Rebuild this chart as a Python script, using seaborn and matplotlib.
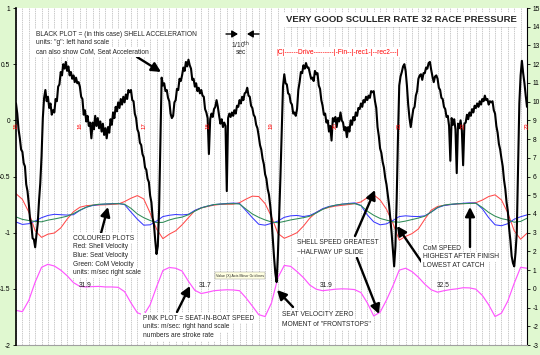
import numpy as np
import pandas as pd
import matplotlib.pyplot as plt
import seaborn as sns


# time grids (seconds)
acc_time = np.linspace(15.0, 23.0, 401)   # 0.02 s samples
vel_time = np.linspace(15.0, 23.0, 81)    # 0.1 s samples

# shell acceleration, g (left scale)
shell_acc = [
    0.15, 0.06, -0.08, -0.16, -0.26, -0.28, -0.38, -0.41, -0.57, -0.63,
    -0.74, -0.88, -0.93, -1.05, -1.06, -1.13, -1.02, -0.92, -0.72, -0.56,
    -0.32, 0.02, 0.20, 0.27, 0.17, 0.21, 0.11, 0.15, 0.05, 0.09,
    0.07, 0.19, 0.17, 0.30, 0.32, 0.43, 0.40, 0.50, 0.46, 0.52,
    0.44, 0.48, 0.40, 0.43, 0.37, 0.40, 0.34, 0.38, 0.33, 0.34,
    0.30, 0.21, 0.19, 0.05, 0.09, -0.01, 0.04, -0.05, -0.02, -0.16,
    -0.02, -0.08, 0.04, -0.05, 0.02, -0.07, -0.01, -0.10, -0.03, -0.13,
    -0.07, -0.16, -0.06, -0.11, 0.01, -0.04, 0.07, 0.02, 0.12, 0.08,
    0.16, 0.11, 0.19, 0.14, 0.21, 0.16, 0.23, 0.19, 0.27, 0.25,
    0.27, 0.18, 0.17, 0.06, 0.02, -0.08, -0.11, -0.20, -0.22, -0.30,
    -0.33, -0.42, -0.44, -0.52, -0.55, -0.67, -0.73, -0.87, -0.93, -1.07,
    -1.19, -1.12, -0.80, -0.20, 0.38, 0.31, 0.33, 0.26, 0.27, 0.20,
    0.17, 0.06, 0.02, 0.04, 0.16, 0.18, 0.28, 0.27, 0.37, 0.35,
    0.40, 0.47, 0.44, 0.52, 0.48, 0.54, 0.49, 0.46, 0.36, 0.37,
    0.30, 0.33, 0.26, 0.29, 0.24, 0.27, 0.22, 0.21, 0.10, 0.07,
    0.02, -0.30, 0.01, 0.06, 0.03, 0.10, 0.12, 0.18, 0.12, 0.04,
    -0.03, 0.01, -0.06, -0.02, -0.05, -0.63, 0.02, 0.06, 0.03, 0.07,
    0.04, 0.09, 0.06, 0.13, 0.12, 0.18, 0.15, 0.21, 0.18, 0.24,
    0.25, 0.29, 0.22, 0.21, 0.13, 0.11, 0.05, 0.03, -0.04, -0.07,
    -0.14, -0.22, -0.26, -0.34, -0.39, -0.48, -0.52, -0.61, -0.66, -0.76,
    -0.88, -1.05, -1.22, -1.36, -1.44, -1.20, -0.85, -0.50, -0.10, 0.30,
    0.41, 0.33, 0.32, 0.24, 0.23, 0.16, 0.14, 0.06, 0.07, 0.04,
    0.10, 0.27, 0.34, 0.43, 0.42, 0.49, 0.46, 0.51, 0.47, 0.47,
    0.42, 0.37, 0.38, 0.35, 0.44, 0.41, 0.42, 0.31, 0.28, 0.18,
    0.13, 0.05, 0.06, -0.02, 0.00, -0.10, -0.05, -0.18, 0.02, -0.01,
    0.03, -0.06, 0.02, -0.01, 0.07, 0.00, -0.02, -0.09, -0.06, -0.15,
    -0.06, -0.10, 0.00, -0.04, 0.03, 0.00, 0.07, 0.04, 0.11, 0.10,
    0.15, 0.12, 0.18, 0.16, 0.21, 0.18, 0.22, 0.20, 0.26, 0.25,
    0.26, 0.17, 0.11, -0.06, -0.14, -0.25, -0.29, -0.37, -0.42, -0.51,
    -0.57, -0.66, -0.75, -0.87, -1.00, -1.15, -1.30, -1.12, -0.70, -0.15,
    0.31, 0.39, 0.43, 0.48, 0.50, 0.44, 0.31, 0.14, 0.02, -0.06,
    0.02, 0.10, 0.12, 0.22, 0.26, 0.37, 0.40, 0.41, 0.36, 0.42,
    0.42, 0.47, 0.46, 0.51, 0.52, 0.45, 0.39, 0.34, 0.39, 0.40,
    0.37, 0.29, 0.27, 0.20, 0.19, 0.12, 0.10, 0.03, 0.04, -0.05,
    -0.36, 0.02, -0.04, 0.01, -0.08, -0.47, -0.03, -0.07, 0.00, -0.09,
    -0.40, -0.03, -0.02, 0.05, 0.01, 0.07, 0.04, 0.10, 0.07, 0.13,
    0.11, 0.15, 0.12, 0.17, 0.14, 0.19, 0.17, 0.22, 0.18, 0.19,
    0.14, 0.17, 0.16, 0.17, 0.09, 0.06, -0.05, -0.11, -0.21, -0.26,
    -0.34, -0.41, -0.53, -0.61, -0.73, -0.81, -0.96, -1.07, -1.21, -1.27,
    -1.30, -1.18, -1.00, -0.40, 0.15, 0.40, 0.53, 0.42, 0.33, 0.22,
    0.12,
]

# velocities, m/sec (right scale)
shell_vel = [
    5.08, 4.78, 4.10, 3.10, 2.75, 2.92, 2.98, 3.25, 3.72, 4.12,
    4.36, 4.44, 4.47, 4.48, 4.49, 4.51, 4.53, 4.66, 4.84, 4.98,
    4.80, 4.05, 3.20, 2.68, 2.92, 3.10, 3.42, 3.80, 4.18, 4.32,
    4.40, 4.47, 4.51, 4.52, 4.52, 4.60, 4.79, 4.95, 4.93, 4.55,
    3.85, 2.96, 2.70, 2.84, 3.00, 3.35, 3.78, 4.08, 4.26, 4.35,
    4.42, 4.46, 4.50, 4.55, 4.64, 4.87, 5.02, 4.75, 4.25, 3.50,
    2.60, 2.80, 2.95, 3.20, 3.72, 4.20, 4.40, 4.46, 4.50, 4.53,
    4.55, 4.57, 4.60, 4.74, 4.93, 5.02, 4.75, 4.05, 3.10, 2.65,
    2.97,
]
seat_vel = [
    3.57, 3.44, 3.48, 3.62, 3.80, 3.92, 3.98, 3.96, 3.94, 3.96,
    4.19, 4.36, 4.45, 4.50, 4.53, 4.55, 4.56, 4.50, 4.10, 3.72,
    3.40, 3.42, 3.62, 3.86, 3.93, 3.97, 3.95, 3.98, 4.19, 4.33,
    4.42, 4.50, 4.53, 4.56, 4.58, 4.56, 4.18, 3.80, 3.45, 3.40,
    3.50, 3.62, 3.82, 3.90, 3.92, 3.86, 3.92, 4.08, 4.28, 4.40,
    4.46, 4.52, 4.56, 4.59, 4.45, 3.95, 3.58, 3.42, 3.47, 3.65,
    3.86, 3.90, 3.87, 3.86, 3.90, 4.10, 4.33, 4.45, 4.50, 4.54,
    4.57, 4.59, 4.58, 4.28, 3.80, 3.42, 3.37, 3.48, 3.72, 3.85,
    3.95,
]
com_vel = [
    3.84, 3.71, 3.65, 3.60, 3.58, 3.67, 3.73, 3.80, 3.88, 4.02,
    4.20, 4.36, 4.47, 4.52, 4.53, 4.54, 4.55, 4.52, 4.30, 4.00,
    3.80, 3.65, 3.54, 3.55, 3.68, 3.77, 3.83, 3.96, 4.15, 4.32,
    4.42, 4.50, 4.53, 4.54, 4.55, 4.53, 4.26, 4.00, 3.82, 3.68,
    3.57, 3.53, 3.60, 3.68, 3.74, 3.80, 3.88, 4.05, 4.24, 4.38,
    4.47, 4.52, 4.54, 4.55, 4.45, 4.15, 3.93, 3.76, 3.67, 3.58,
    3.56, 3.62, 3.70, 3.78, 3.88, 4.10, 4.35, 4.47, 4.52, 4.54,
    4.55, 4.56, 4.57, 4.35, 4.08, 3.88, 3.75, 3.68, 3.56, 3.60,
    3.77,
]
seat_in_boat = [
    -1.15, -1.22, -0.62, 0.36, 1.15, 1.31, 1.22, 1.00, 0.70, 0.33,
    0.13, 0.10, 0.12, 0.13, 0.10, 0.10, 0.08, -0.15, -0.75, -1.28,
    -1.40, -0.85, 0.10, 0.98, 1.14, 1.10, 0.95, 0.40, -0.08, -0.25,
    -0.18, -0.10, -0.07, -0.05, -0.06, -0.10, -0.48, -0.92, -1.38, -1.48,
    -0.75, 0.60, 1.25, 1.20, 0.92, 0.60, 0.20, -0.02, -0.10, -0.06,
    -0.02, 0.00, -0.01, -0.04, -0.20, -0.75, -1.45, -1.25, -0.60, 0.15,
    1.00, 1.10, 0.92, 0.62, 0.25, -0.05, -0.18, -0.10, -0.04, 0.00,
    0.06, 0.05, -0.02, -0.35, -0.85, -1.48, -1.30, -0.65, 0.30, 1.15,
    1.10,
]

# stroke rate labels on the pink plot
rate_time = [16.08, 17.96, 19.86, 21.69]
rate_text = ['31.9', '31.7', '31.9', '32.5']
second_marks = list(range(15, 24))

left_ticks = [-2, -1.5, -1, -0.5, 0, 0.5, 1]
right_ticks = list(range(-3, 16))


sns.set_theme(style='white')
plt.rcParams['font.family'] = ['Liberation Sans', 'DejaVu Sans']

W, H = 540, 355


def fx(x):
    return x / W


def fy(y):
    return 1 - y / H


fig = plt.figure(figsize=(W / 100, H / 100), dpi=100)
fig.patch.set_facecolor('#e0f8d0')
rect = [fx(16), fy(345), (527 - 16) / W, (345 - 8) / H]

# right scale axes (coloured plots) underneath, left scale (black) on top
ax_r = fig.add_axes(rect)
ax_l = fig.add_axes(rect, sharex=ax_r)
ax_l.patch.set_visible(False)
ax_r.set_facecolor('white')

ax_r.set_xticks(np.arange(15, 23.001, 0.1))
ax_r.set_yticks([-3, 0, 3, 6, 9, 12, 15], minor=True)
ax_r.grid(axis='x', which='major', color='#b4b4b4', linestyle=(0, (2, 1.2)), lw=0.5)
ax_r.grid(axis='y', which='minor', color='#909090', linestyle=(0, (1, 1.5)), lw=0.6)

sns.lineplot(x=vel_time, y=shell_vel, ax=ax_r, color='#ff4a4a', lw=0.75)
sns.lineplot(x=vel_time, y=seat_vel, ax=ax_r, color='#3a3aff', lw=0.75)
sns.lineplot(x=vel_time, y=com_vel, ax=ax_r, color='#2e8b57', lw=0.75)
sns.lineplot(x=vel_time, y=seat_in_boat, ax=ax_r, color='#ff55ff', lw=0.85)
sns.lineplot(x=acc_time, y=shell_acc, ax=ax_l, color='black', lw=1.5)

ax_r.set_xlim(15, 23)
ax_r.set_ylim(-3, 15)
ax_l.set_ylim(-2, 1)
for a in (ax_r, ax_l):
    a.set_xlabel('')
    a.set_ylabel('')

ax_r.yaxis.tick_right()
ax_r.set_yticks(right_ticks)
ax_r.set_yticklabels([str(v) for v in right_ticks])
ax_r.tick_params(axis='y', which='major', direction='out', length=2.5, width=0.6,
                 pad=1.5, labelsize=4.8, colors='black', right=True, left=False)
ax_r.tick_params(axis='y', which='minor', length=0)
ax_r.tick_params(axis='x', length=0, labelbottom=False)

ax_l.set_yticks(left_ticks)
ax_l.set_yticklabels(['-2', '-1.5', '-1', '-0.5', '0', '0.5', '1'])
ax_l.tick_params(axis='y', direction='out', length=2.5, width=0.6, pad=1.5,
                 labelsize=4.8, colors='black', left=True)
ax_l.tick_params(axis='x', length=0, labelbottom=False)

for s in ('top', 'left'):
    ax_r.spines[s].set_visible(False)
ax_r.spines['right'].set_color('black')
ax_r.spines['right'].set_linewidth(0.8)
ax_r.spines['bottom'].set_color('#a0a0a0')
ax_r.spines['bottom'].set_linewidth(0.8)
for s in ('top', 'right', 'bottom'):
    ax_l.spines[s].set_visible(False)
ax_l.spines['left'].set_color('black')
ax_l.spines['left'].set_linewidth(1.2)

# red second marks along the zero line
for s in second_marks:
    ax_l.text(s, -0.015, str(s), color='red', fontsize=4.3, rotation=90,
              ha='center', va='top')

for t, r in zip(rate_time, rate_text):
    ax_r.text(t, 0.2, r, fontsize=4.8, ha='center', va='center', color='#202020')

# annotations
box = dict(facecolor='white', edgecolor='none', pad=1.2)


def lines(x, ys, texts, **kw):
    for y, s in zip(ys, texts):
        fig.text(fx(x), fy(y), s, fontsize=4.8, ha='left', va='center', bbox=box, **kw)


fig.text(fx(401), fy(20), 'VERY GOOD SCULLER RATE 32 RACE PRESSURE', fontsize=6.8,
         fontweight='bold', ha='center', va='center', bbox=dict(facecolor='white', edgecolor='none', pad=1.5))
fig.add_artist(plt.Line2D([fx(286), fx(516)], [fy(25.5), fy(25.5)], color='black', lw=0.9))

fig.text(fx(276), fy(52), '|C|------Drive---------|-Fin--|-rec1-|--rec2---|', fontsize=4.8,
         color='red', ha='left', va='center', bbox=box)

lines(36, [34, 43, 52], ['BLACK PLOT = (in this case) SHELL ACCELERATION',
                         'units: "g": left hand scale',
                         'can also show CoM, Seat Acceleration'])
fig.text(fx(241), fy(45), r'1/10$^{\rm th}$', fontsize=4.8, ha='center', va='center')
fig.text(fx(241), fy(53), 'sec', fontsize=4.8, ha='center', va='center')

lines(73, [238, 247, 255.5, 264, 273], ['COLOURED PLOTS', 'Red: Shell Velocity', 'Blue: Seat Velocity',
                                      'Green: CoM Velocity', 'units: m/sec right scale'])
lines(143, [318, 327, 335.5], ['PINK PLOT = SEAT-IN-BOAT SPEED', 'units: m/sec: right hand scale',
                               'numbers are stroke rate'])
lines(282, [315, 324.5], ['SEAT VELOCITY ZERO', 'MOMENT of "FRONTSTOPS"'])
lines(297, [243, 252], ['SHELL SPEED GREATEST', '~HALFWAY UP SLIDE'])
lines(423, [248, 257, 265.5], ['CoM SPEED', 'HIGHEST AFTER FINISH', 'LOWEST AT CATCH'])

fig.text(fx(240), fy(275.5), 'Value (X) Axis Minor Gridlines', fontsize=2.6, ha='center', va='center',
         bbox=dict(facecolor='#ffffe1', edgecolor='#909090', lw=0.3, pad=1.0))

big = dict(arrowstyle='-|>,head_length=0.55,head_width=0.28', color='black', lw=1.7,
           mutation_scale=10, shrinkA=0, shrinkB=0)
small = dict(arrowstyle='-|>,head_length=0.5,head_width=0.3', color='black', lw=1.0,
             mutation_scale=7, shrinkA=0, shrinkB=0)
arrows = [((137, 57), (161, 72)), ((100, 237), (108, 207)), ((177, 312), (190, 286)),
          ((293, 307), (277, 290)), ((355, 236), (375, 190)), ((357, 258), (379, 314)),
          ((470, 247), (470, 207)), ((423, 264), (397, 226))]
for tail, head in arrows:
    ax_l.annotate('', xy=(fx(head[0]), fy(head[1])), xytext=(fx(tail[0]), fy(tail[1])),
                  xycoords='figure fraction', textcoords='figure fraction', arrowprops=big)
for tail, head in [((226, 34), (238, 34)), ((259, 34), (247, 34))]:
    ax_l.annotate('', xy=(fx(head[0]), fy(head[1])), xytext=(fx(tail[0]), fy(tail[1])),
                  xycoords='figure fraction', textcoords='figure fraction', arrowprops=small)

fig.savefig('out.png', dpi=100, facecolor=fig.get_facecolor())
